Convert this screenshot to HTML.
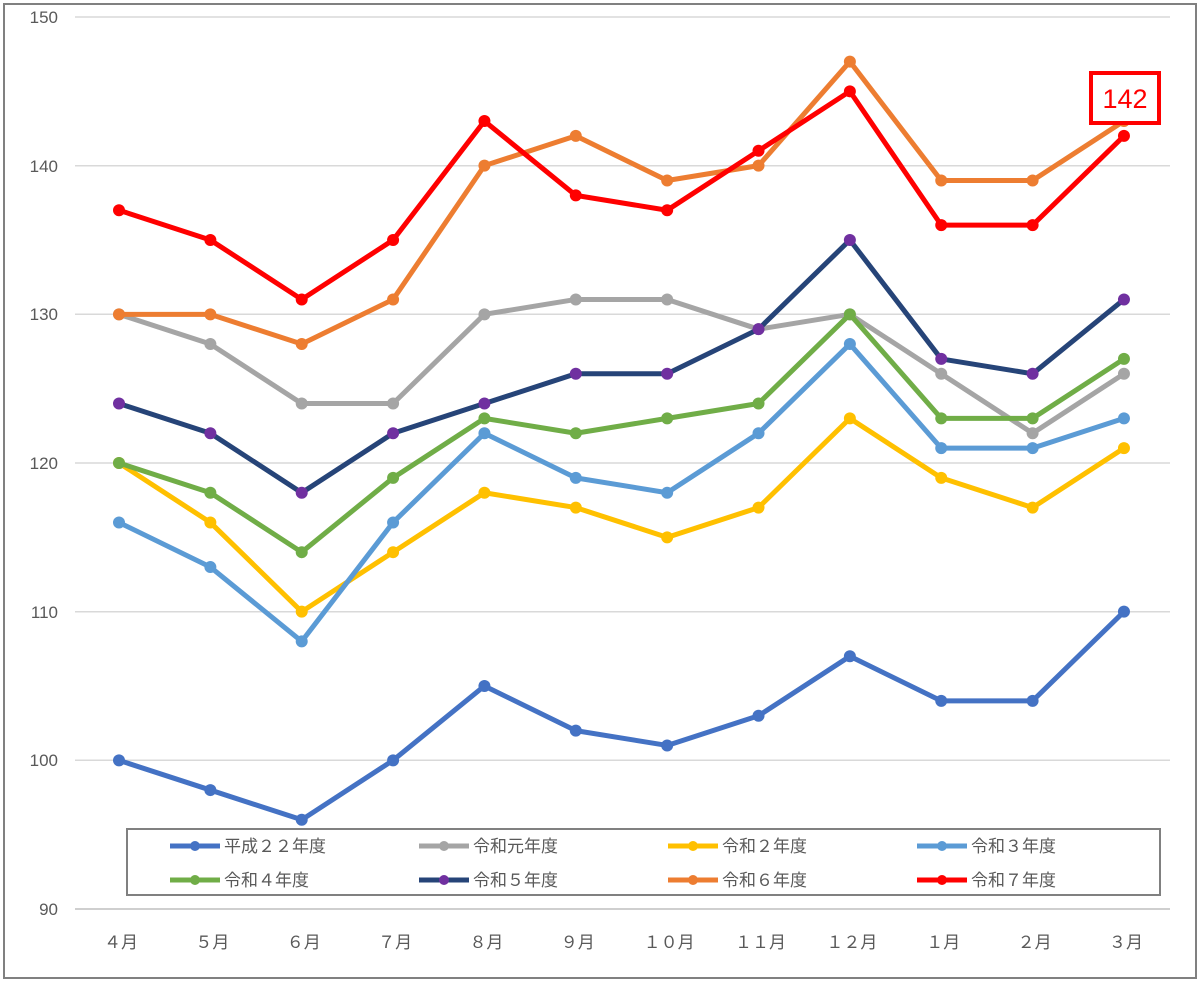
<!DOCTYPE html>
<html><head><meta charset="utf-8"><style>
html,body{margin:0;padding:0;background:#fff}
svg{display:block}
text{font-family:"Liberation Sans","Noto Sans CJK JP",sans-serif}
</style></head><body>
<svg width="1200" height="982" viewBox="0 0 1200 982">
<rect x="4" y="4" width="1192" height="974" fill="#fff" stroke="#808080" stroke-width="2"/>
<g stroke="#d9d9d9" stroke-width="1.5">
<line x1="75" y1="17" x2="1170" y2="17"/>
<line x1="75" y1="165.7" x2="1170" y2="165.7"/>
<line x1="75" y1="314.3" x2="1170" y2="314.3"/>
<line x1="75" y1="463" x2="1170" y2="463"/>
<line x1="75" y1="611.7" x2="1170" y2="611.7"/>
<line x1="75" y1="760.3" x2="1170" y2="760.3"/>
</g>
<line x1="75" y1="909" x2="1170" y2="909" stroke="#bfbfbf" stroke-width="1.5"/>
<g fill="#595959" font-size="17" text-anchor="end">
<text x="58" y="23">150</text><text x="58" y="172">140</text><text x="58" y="320">130</text>
<text x="58" y="469">120</text><text x="58" y="618">110</text><text x="58" y="766">100</text><text x="58" y="915">90</text>
</g>
<g fill="#595959" font-size="17" text-anchor="middle" id="xl"></g>
<g id="series"></g>
<rect x="127" y="829" width="1033" height="66" fill="#fff" stroke="#808080" stroke-width="2"/>
<g id="legend" font-size="17" fill="#595959"></g>
<rect x="1091" y="73" width="68" height="50" fill="#fff" stroke="#ff0000" stroke-width="4"/>
<text x="1125" y="108" fill="#ff0000" font-size="27" text-anchor="middle">142</text>
</svg>
<script>
var ns="http://www.w3.org/2000/svg";
function X(i){return 119+i*91.36}
function Y(v){return 909-(v-90)*14.867}
var labels=["４月","５月","６月","７月","８月","９月","１０月","１１月","１２月","１月","２月","３月"];
var xl=document.getElementById("xl");
labels.forEach(function(l,i){var t=document.createElementNS(ns,"text");t.setAttribute("x",X(i)+2);t.setAttribute("y",948);t.textContent=l;xl.appendChild(t);});
var S=[
["平成２２年度","#4472c4","#4472c4",[100,98,96,100,105,102,101,103,107,104,104,110]],
["令和元年度","#a5a5a5","#a5a5a5",[130,128,124,124,130,131,131,129,130,126,122,126]],
["令和２年度","#ffc000","#ffc000",[120,116,110,114,118,117,115,117,123,119,117,121]],
["令和３年度","#5b9bd5","#5b9bd5",[116,113,108,116,122,119,118,122,128,121,121,123]],
["令和４年度","#70ad47","#70ad47",[120,118,114,119,123,122,123,124,130,123,123,127]],
["令和５年度","#264478","#7030a0",[124,122,118,122,124,126,126,129,135,127,126,131]],
["令和６年度","#ed7d31","#ed7d31",[130,130,128,131,140,142,139,140,147,139,139,143]],
["令和７年度","#ff0000","#ff0000",[137,135,131,135,143,138,137,141,145,136,136,142]]];
var g=document.getElementById("series"),lg=document.getElementById("legend");
S.forEach(function(s,k){
 var p=document.createElementNS(ns,"polyline");
 p.setAttribute("points",s[3].map(function(v,i){return X(i)+","+Y(v)}).join(" "));
 p.setAttribute("fill","none");p.setAttribute("stroke",s[1]);p.setAttribute("stroke-width","5");p.setAttribute("stroke-linejoin","round");
 g.appendChild(p);
 s[3].forEach(function(v,i){var c=document.createElementNS(ns,"circle");c.setAttribute("cx",X(i));c.setAttribute("cy",Y(v));c.setAttribute("r",6);c.setAttribute("fill",s[2]);g.appendChild(c);});
 var col=k%4,row=Math.floor(k/4);var lx=170+col*249,ly=846+row*34;
 var l=document.createElementNS(ns,"line");l.setAttribute("x1",lx);l.setAttribute("x2",lx+50);l.setAttribute("y1",ly);l.setAttribute("y2",ly);l.setAttribute("stroke",s[1]);l.setAttribute("stroke-width",5);lg.appendChild(l);
 var c=document.createElementNS(ns,"circle");c.setAttribute("cx",lx+25);c.setAttribute("cy",ly);c.setAttribute("r",5);c.setAttribute("fill",s[2]);lg.appendChild(c);
 var t=document.createElementNS(ns,"text");t.setAttribute("x",lx+54);t.setAttribute("y",ly+6);t.textContent=s[0];lg.appendChild(t);
});
</script>
</body></html>
